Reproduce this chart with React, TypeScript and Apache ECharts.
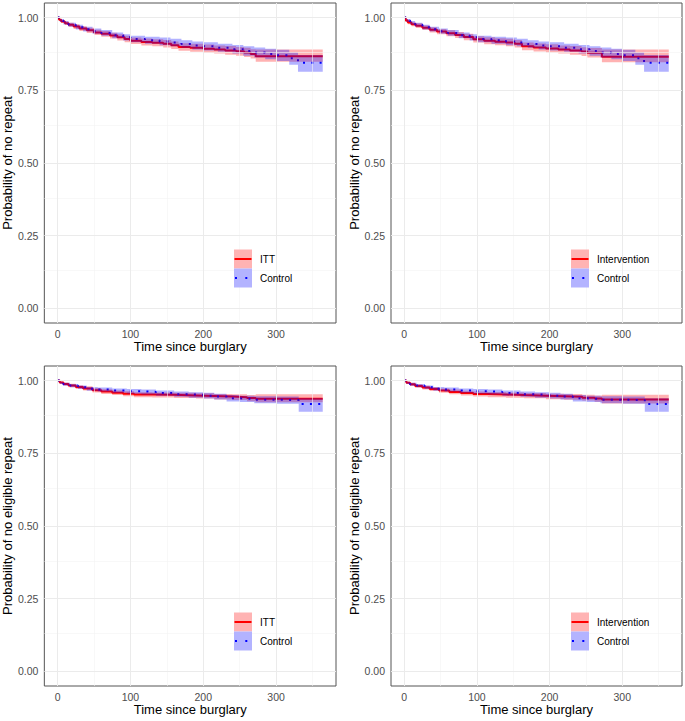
import React, { useEffect, useRef } from "react";
import * as echarts from "echarts";

// ---- tick definitions ----
const xTicks = [0, 100, 200, 300];
const xMinor = [50, 150, 250, 350];
const yTicks = [0, 0.25, 0.5, 0.75, 1];
const yMinor = [0.125, 0.375, 0.625, 0.875];

// ---- data: [time, survival, lower CI, upper CI] ----
type Pt = [number, number, number, number];

const anyItt: Pt[] = [
  [0, 1, 1, 1], [2, 0.992, 0.988, 0.996], [5, 0.986, 0.981, 0.991],
  [10, 0.98, 0.974, 0.986], [15, 0.975, 0.968, 0.982], [22, 0.969, 0.961, 0.977],
  [30, 0.962, 0.954, 0.97], [40, 0.956, 0.947, 0.965], [50, 0.949, 0.94, 0.958],
  [60, 0.944, 0.934, 0.954], [72, 0.938, 0.928, 0.948], [82, 0.932, 0.921, 0.943],
  [92, 0.926, 0.915, 0.937], [100, 0.92, 0.909, 0.931], [115, 0.916, 0.904, 0.928],
  [130, 0.913, 0.901, 0.925], [145, 0.91, 0.897, 0.923], [156, 0.905, 0.892, 0.918],
  [166, 0.899, 0.886, 0.912], [182, 0.896, 0.882, 0.91], [200, 0.893, 0.879, 0.907],
  [215, 0.89, 0.876, 0.904], [230, 0.887, 0.872, 0.902], [245, 0.884, 0.869, 0.899],
  [256, 0.88, 0.864, 0.896], [265, 0.875, 0.859, 0.891], [272, 0.867, 0.848, 0.89],
  [364, 0.867, 0.848, 0.89],
];

const anyControl: Pt[] = [
  [0, 1, 1, 1], [3, 0.99, 0.985, 0.995], [8, 0.982, 0.976, 0.988],
  [15, 0.975, 0.968, 0.982], [25, 0.967, 0.959, 0.975], [35, 0.96, 0.952, 0.968],
  [48, 0.953, 0.944, 0.962], [60, 0.947, 0.937, 0.957], [75, 0.939, 0.929, 0.949],
  [90, 0.932, 0.921, 0.943], [100, 0.926, 0.915, 0.937], [120, 0.922, 0.91, 0.934],
  [140, 0.918, 0.905, 0.931], [155, 0.914, 0.901, 0.927], [170, 0.909, 0.896, 0.922],
  [185, 0.904, 0.89, 0.918], [200, 0.901, 0.887, 0.915], [220, 0.896, 0.882, 0.91],
  [240, 0.891, 0.876, 0.906], [255, 0.885, 0.869, 0.901], [270, 0.88, 0.863, 0.897],
  [285, 0.875, 0.857, 0.893], [300, 0.87, 0.851, 0.889], [318, 0.86, 0.838, 0.88],
  [330, 0.845, 0.814, 0.871], [364, 0.845, 0.814, 0.871],
];

const anyIntervention: Pt[] = [
  [0, 1, 1, 1], [2, 0.99, 0.985, 0.995], [5, 0.983, 0.977, 0.989],
  [10, 0.977, 0.97, 0.984], [16, 0.972, 0.964, 0.98], [25, 0.965, 0.957, 0.973],
  [35, 0.958, 0.949, 0.967], [45, 0.952, 0.943, 0.961], [58, 0.946, 0.936, 0.956],
  [70, 0.94, 0.93, 0.95], [82, 0.933, 0.922, 0.944], [95, 0.925, 0.914, 0.936],
  [110, 0.92, 0.908, 0.932], [125, 0.917, 0.905, 0.929], [140, 0.914, 0.901, 0.927],
  [152, 0.91, 0.897, 0.923], [162, 0.901, 0.888, 0.914], [178, 0.897, 0.883, 0.911],
  [195, 0.894, 0.88, 0.908], [212, 0.89, 0.876, 0.904], [228, 0.887, 0.872, 0.902],
  [244, 0.883, 0.868, 0.898], [252, 0.879, 0.863, 0.895], [272, 0.865, 0.846, 0.89],
  [364, 0.865, 0.846, 0.89],
];

const eligItt: Pt[] = [
  [0, 1, 1, 1], [3, 0.993, 0.989, 0.997], [8, 0.988, 0.983, 0.993],
  [15, 0.983, 0.977, 0.989], [25, 0.978, 0.971, 0.984], [35, 0.973, 0.966, 0.98],
  [48, 0.967, 0.959, 0.974], [60, 0.962, 0.954, 0.97], [75, 0.958, 0.95, 0.966],
  [90, 0.955, 0.946, 0.963], [105, 0.952, 0.943, 0.96], [130, 0.951, 0.942, 0.959],
  [160, 0.949, 0.94, 0.958], [190, 0.947, 0.938, 0.956], [215, 0.945, 0.935, 0.954],
  [240, 0.943, 0.933, 0.953], [260, 0.94, 0.929, 0.95], [272, 0.937, 0.925, 0.953],
  [364, 0.937, 0.925, 0.953],
];

const eligControl: Pt[] = [
  [0, 1, 1, 1], [3, 0.992, 0.988, 0.996], [8, 0.987, 0.982, 0.992],
  [17, 0.983, 0.977, 0.988], [28, 0.977, 0.971, 0.983], [40, 0.972, 0.965, 0.978],
  [55, 0.969, 0.962, 0.976], [75, 0.966, 0.958, 0.973], [95, 0.963, 0.955, 0.971],
  [115, 0.961, 0.952, 0.969], [135, 0.957, 0.948, 0.966], [160, 0.953, 0.944, 0.962],
  [180, 0.951, 0.941, 0.96], [200, 0.948, 0.938, 0.958], [215, 0.945, 0.935, 0.955],
  [232, 0.939, 0.928, 0.95], [250, 0.937, 0.926, 0.948], [270, 0.934, 0.922, 0.946],
  [300, 0.933, 0.92, 0.945], [331, 0.919, 0.893, 0.939], [364, 0.919, 0.893, 0.939],
];

const eligIntervention: Pt[] = [
  [0, 1, 1, 1], [3, 0.992, 0.988, 0.996], [8, 0.987, 0.981, 0.992],
  [15, 0.981, 0.975, 0.987], [25, 0.976, 0.969, 0.982], [35, 0.971, 0.964, 0.978],
  [48, 0.966, 0.958, 0.973], [62, 0.961, 0.953, 0.969], [78, 0.957, 0.949, 0.965],
  [95, 0.954, 0.945, 0.962], [115, 0.952, 0.943, 0.961], [140, 0.95, 0.941, 0.959],
  [165, 0.948, 0.939, 0.957], [195, 0.946, 0.936, 0.955], [220, 0.944, 0.934, 0.954],
  [245, 0.941, 0.931, 0.951], [262, 0.938, 0.927, 0.949], [272, 0.935, 0.921, 0.951],
  [364, 0.935, 0.921, 0.951],
];

const treatLabels = ["ITT", "Intervention", "ITT", "Intervention"];
const controlLabel = "Control";
const yTitles = [
  "Probability of no repeat",
  "Probability of no repeat",
  "Probability of no eligible repeat",
  "Probability of no eligible repeat",
];
const xTitle = "Time since burglary";

const panelData: { treat: Pt[]; control: Pt[] }[] = [
  { treat: anyItt, control: anyControl },
  { treat: anyIntervention, control: anyControl },
  { treat: eligItt, control: eligControl },
  { treat: eligIntervention, control: eligControl },
];

// ---- layout ----
const FONT = "'Liberation Sans', Arial, Helvetica, sans-serif";
const gridBoxes = [
  { left: 44, top: 3, width: 292, height: 320 },
  { left: 391, top: 3, width: 291, height: 320 },
  { left: 44, top: 366, width: 292, height: 320 },
  { left: 391, top: 366, width: 291, height: 320 },
];
const legendOrigins = [
  [234, 249.5],
  [571, 249.5],
  [234, 612.5],
  [571, 612.5],
];

const RED = "#FF0000";
const BLUE = "#0000FF";
const RED_FILL = "rgba(255,0,0,0.3)";
const BLUE_FILL = "rgba(0,0,255,0.3)";

// step-shaped ribbon polygon built through the series' own scales
function ribbonSeries(arr: Pt[], fill: string, i: number) {
  return {
    type: "custom",
    coordinateSystem: "cartesian2d",
    xAxisIndex: i,
    yAxisIndex: i,
    z: 3,
    silent: true,
    clip: true,
    encode: { x: 0, y: [1, 2] },
    data: arr.map((d) => [d[0], d[2], d[3]]),
    renderItem: (params: any, api: any) => {
      if (params.dataIndex !== 0) return null;
      const upper: number[][] = [];
      const lower: number[][] = [];
      for (let k = 0; k < arr.length; k++) {
        const t = arr[k][0];
        const tn = k < arr.length - 1 ? arr[k + 1][0] : t;
        upper.push(api.coord([t, arr[k][3]]));
        upper.push(api.coord([tn, arr[k][3]]));
        lower.push(api.coord([t, arr[k][2]]));
        lower.push(api.coord([tn, arr[k][2]]));
      }
      const points = upper.concat(lower.reverse());
      return {
        type: "polygon",
        shape: { points },
        style: { fill, stroke: "none" },
      };
    },
  };
}

function buildOption() {
  const allTimes = panelData.flatMap((p) => [...p.treat, ...p.control].map((d) => d[0]));
  const tMax = Math.max(...allTimes);
  const xMin = -0.05 * tMax;
  const xMax = tMax * 1.05;

  const grid: any[] = [];
  const xAxis: any[] = [];
  const yAxis: any[] = [];
  const series: any[] = [];
  const graphic: any[] = [];

  gridBoxes.forEach((g, i) => {
    grid.push({
      ...g,
      show: true,
      backgroundColor: "#FFFFFF",
      borderColor: "#555555",
      borderWidth: 1,
      containLabel: false,
    });
    xAxis.push({
      type: "value",
      gridIndex: i,
      min: xMin,
      max: xMax,
      name: xTitle,
      nameLocation: "middle",
      nameGap: 16,
      nameTextStyle: { fontSize: 13, color: "#000", fontFamily: FONT },
      axisLine: { show: false },
      splitLine: { show: false },
      axisTick: { show: true, customValues: xTicks, length: 4, lineStyle: { color: "#333", width: 1 } },
      axisLabel: {
        customValues: xTicks,
        fontSize: 10.5,
        color: "#4D4D4D",
        fontFamily: FONT,
        margin: 5,
        formatter: (v: number) => String(v),
      },
    });
    yAxis.push({
      type: "value",
      gridIndex: i,
      min: -0.05,
      max: 1.05,
      name: yTitles[i],
      nameLocation: "middle",
      nameGap: 29,
      nameTextStyle: { fontSize: 13, color: "#000", fontFamily: FONT },
      axisLine: { show: false },
      splitLine: { show: false },
      axisTick: { show: true, customValues: yTicks, length: 4, lineStyle: { color: "#333", width: 1 } },
      axisLabel: {
        customValues: yTicks,
        fontSize: 10.5,
        color: "#4D4D4D",
        fontFamily: FONT,
        margin: 6,
        formatter: (v: number) => v.toFixed(2),
      },
    });

    // gridlines (major + minor) placed through the axes via markLine
    const major = { color: "#EBEBEB", width: 1, type: "solid" };
    const minor = { color: "#F3F3F3", width: 0.6, type: "solid" };
    series.push({
      type: "line",
      xAxisIndex: i,
      yAxisIndex: i,
      data: [],
      z: 1,
      silent: true,
      markLine: {
        silent: true,
        symbol: ["none", "none"],
        label: { show: false },
        animation: false,
        data: [
          ...xMinor.map((v) => ({ xAxis: v, lineStyle: minor })),
          ...yMinor.map((v) => ({ yAxis: v, lineStyle: minor })),
          ...xTicks.map((v) => ({ xAxis: v, lineStyle: major })),
          ...yTicks.map((v) => ({ yAxis: v, lineStyle: major })),
        ],
      },
    });

    const { treat, control } = panelData[i];
    series.push({
      type: "line",
      name: treatLabels[i],
      xAxisIndex: i,
      yAxisIndex: i,
      step: "end",
      symbol: "none",
      showSymbol: false,
      z: 2,
      data: treat.map((d) => [d[0], d[1]]),
      lineStyle: { color: RED, width: 2 },
    });
    series.push({
      type: "line",
      name: controlLabel,
      xAxisIndex: i,
      yAxisIndex: i,
      step: "end",
      symbol: "none",
      showSymbol: false,
      z: 2,
      data: control.map((d) => [d[0], d[1]]),
      lineStyle: { color: BLUE, width: 2, type: [2, 6.3], cap: "butt" },
    });
    series.push(ribbonSeries(treat, RED_FILL, i));
    series.push(ribbonSeries(control, BLUE_FILL, i));

    // legend (inside panel)
    const [lx, ly] = legendOrigins[i];
    const kw = 18;
    const kh = 19;
    graphic.push(
      { type: "rect", x: lx, y: ly, shape: { x: 0, y: 0, width: kw, height: kh }, style: { fill: "#FFB3B3" }, z: 10 },
      { type: "line", x: lx, y: ly, shape: { x1: 0.5, y1: kh / 2, x2: kw - 0.5, y2: kh / 2 }, style: { stroke: RED, lineWidth: 2 }, z: 11 },
      { type: "rect", x: lx, y: ly + kh, shape: { x: 0, y: 0, width: kw, height: kh }, style: { fill: "#B3B3FF" }, z: 10 },
      { type: "line", x: lx, y: ly + kh, shape: { x1: 1, y1: kh / 2, x2: kw, y2: kh / 2 }, style: { stroke: BLUE, lineWidth: 2, lineDash: [2, 8.3] }, z: 11 },
      { type: "text", x: lx + kw + 8, y: ly + kh / 2, style: { text: treatLabels[i], fill: "#000", fontSize: 10, fontFamily: FONT, verticalAlign: "middle", align: "left" }, z: 11 },
      { type: "text", x: lx + kw + 8, y: ly + kh * 1.5, style: { text: controlLabel, fill: "#000", fontSize: 10, fontFamily: FONT, verticalAlign: "middle", align: "left" }, z: 11 },
    );
  });

  return {
    animation: false,
    backgroundColor: "#FFFFFF",
    textStyle: { fontFamily: FONT },
    grid,
    xAxis,
    yAxis,
    series,
    graphic,
  };
}

export default function App() {
  const ref = useRef<HTMLDivElement>(null);
  useEffect(() => {
    if (!ref.current) return;
    const chart = echarts.init(ref.current, undefined, { renderer: "svg" });
    chart.setOption(buildOption() as any);
    return () => chart.dispose();
  }, []);
  return (
    <div
      ref={ref}
      style={{ position: "absolute", left: 0, top: 0, width: 685, height: 721, background: "#fff" }}
    />
  );
}
